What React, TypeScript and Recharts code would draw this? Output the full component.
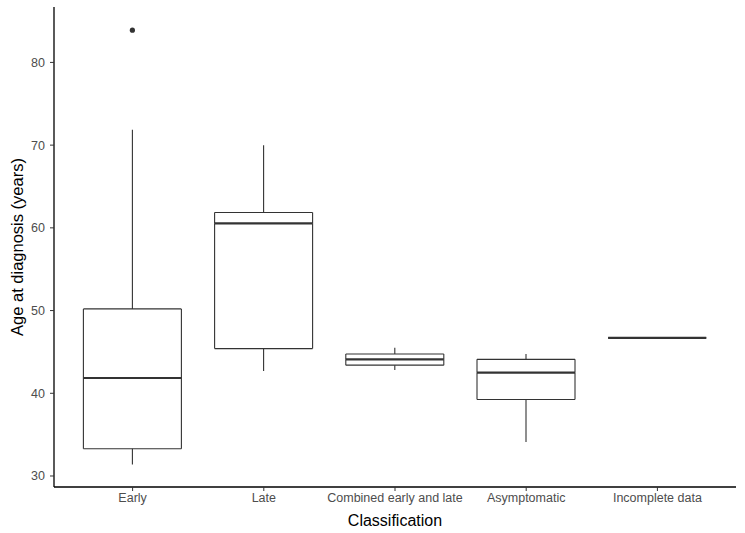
import { ComposedChart, Bar, XAxis, YAxis } from 'recharts'

// box plot summaries
const categories = ['Early', 'Late', 'Combined early and late', 'Asymptomatic', 'Incomplete data']
const mins = [31.4, 42.7, 42.8, 34.1, 46.7]
const q1s = [33.3, 45.4, 43.4, 39.25, 46.7]
const medians = [41.85, 60.55, 44.1, 42.5, 46.7]
const q3s = [50.2, 61.85, 44.75, 44.1, 46.7]
const maxs = [71.85, 70.0, 45.5, 44.75, 46.7]
const outliers: (number | null)[] = [83.9, null, null, null, null]
const yTicks = [30, 40, 50, 60, 70, 80]

// stacked segments so every edge goes through the y scale
const data = categories.map((name, i) => ({
  name,
  base: mins[i],
  lowWhisker: q1s[i] - mins[i],
  lowBox: medians[i] - q1s[i],
  highBox: q3s[i] - medians[i],
  highWhisker: maxs[i] - q3s[i],
  outlierGap: outliers[i] == null ? 0 : (outliers[i] as number) - maxs[i],
  hasOutlier: outliers[i] != null,
}))

const LINE = '#333333'
const FONT = '"Liberation Sans", Arial, sans-serif'

const Whisker = (p: any) => {
  const cx = p.x + p.width / 2
  return <line x1={cx} x2={cx} y1={p.y} y2={p.y + p.height} stroke={LINE} strokeWidth={1.1} />
}

const LowBox = (p: any) => {
  const { x, y, width, height } = p
  return (
    <g stroke={LINE} strokeWidth={1.1} fill="none">
      <line x1={x} x2={x} y1={y} y2={y + height} />
      <line x1={x + width} x2={x + width} y1={y} y2={y + height} />
      <line x1={x} x2={x + width} y1={y + height} y2={y + height} />
    </g>
  )
}

const HighBox = (p: any) => {
  const { x, y, width, height } = p
  return (
    <g stroke={LINE} fill="none">
      <line x1={x} x2={x} y1={y} y2={y + height} strokeWidth={1.1} />
      <line x1={x + width} x2={x + width} y1={y} y2={y + height} strokeWidth={1.1} />
      <line x1={x} x2={x + width} y1={y} y2={y} strokeWidth={1.1} />
      <line x1={x} x2={x + width} y1={y + height} y2={y + height} strokeWidth={2.2} />
    </g>
  )
}

const Outlier = (p: any) => {
  if (!p.payload?.hasOutlier) return <g />
  return <circle cx={p.x + p.width / 2} cy={p.y} r={2.6} fill={LINE} />
}

export default function App() {
  return (
    <div style={{ width: 745, height: 533, background: '#fff', fontFamily: FONT }}>
      <style>{`body{margin:0}`}</style>
      <ComposedChart
        width={745}
        height={533}
        data={data}
        margin={{ top: 7, right: 9, bottom: 0, left: 0 }}
        barCategoryGap="12.5%"
      >
        <XAxis
          dataKey="name"
          height={46}
          padding={{ left: 13, right: 13 }}
          axisLine={{ stroke: '#000', strokeWidth: 1.3 }}
          tickLine={{ stroke: LINE }}
          tickSize={4}
          tickMargin={2}
          interval={0}
          tick={{ fill: '#4d4d4d', fontSize: 12.5, fontFamily: FONT }}
          label={{ value: 'Classification', position: 'insideBottom', offset: 7, fill: '#000', fontSize: 16, fontFamily: FONT }}
        />
        <YAxis
          width={54}
          type="number"
          domain={[28.67, 86.7]}
          ticks={yTicks}
          allowDataOverflow
          axisLine={{ stroke: '#000', strokeWidth: 1.3 }}
          tickLine={{ stroke: LINE }}
          tickSize={4}
          tickMargin={5}
          tick={{ fill: '#4d4d4d', fontSize: 12.5, fontFamily: FONT }}
          label={{
            value: 'Age at diagnosis (years)',
            angle: -90,
            position: 'insideLeft',
            offset: 17,
            fill: '#000',
            fontSize: 16.5,
            fontFamily: FONT,
            style: { textAnchor: 'middle' },
          }}
        />
        <Bar dataKey="base" stackId="box" fill="transparent" isAnimationActive={false} />
        <Bar dataKey="lowWhisker" stackId="box" shape={Whisker} isAnimationActive={false} />
        <Bar dataKey="lowBox" stackId="box" shape={LowBox} isAnimationActive={false} />
        <Bar dataKey="highBox" stackId="box" shape={HighBox} isAnimationActive={false} />
        <Bar dataKey="highWhisker" stackId="box" shape={Whisker} isAnimationActive={false} />
        <Bar dataKey="outlierGap" stackId="box" shape={Outlier} isAnimationActive={false} />
      </ComposedChart>
    </div>
  )
}
